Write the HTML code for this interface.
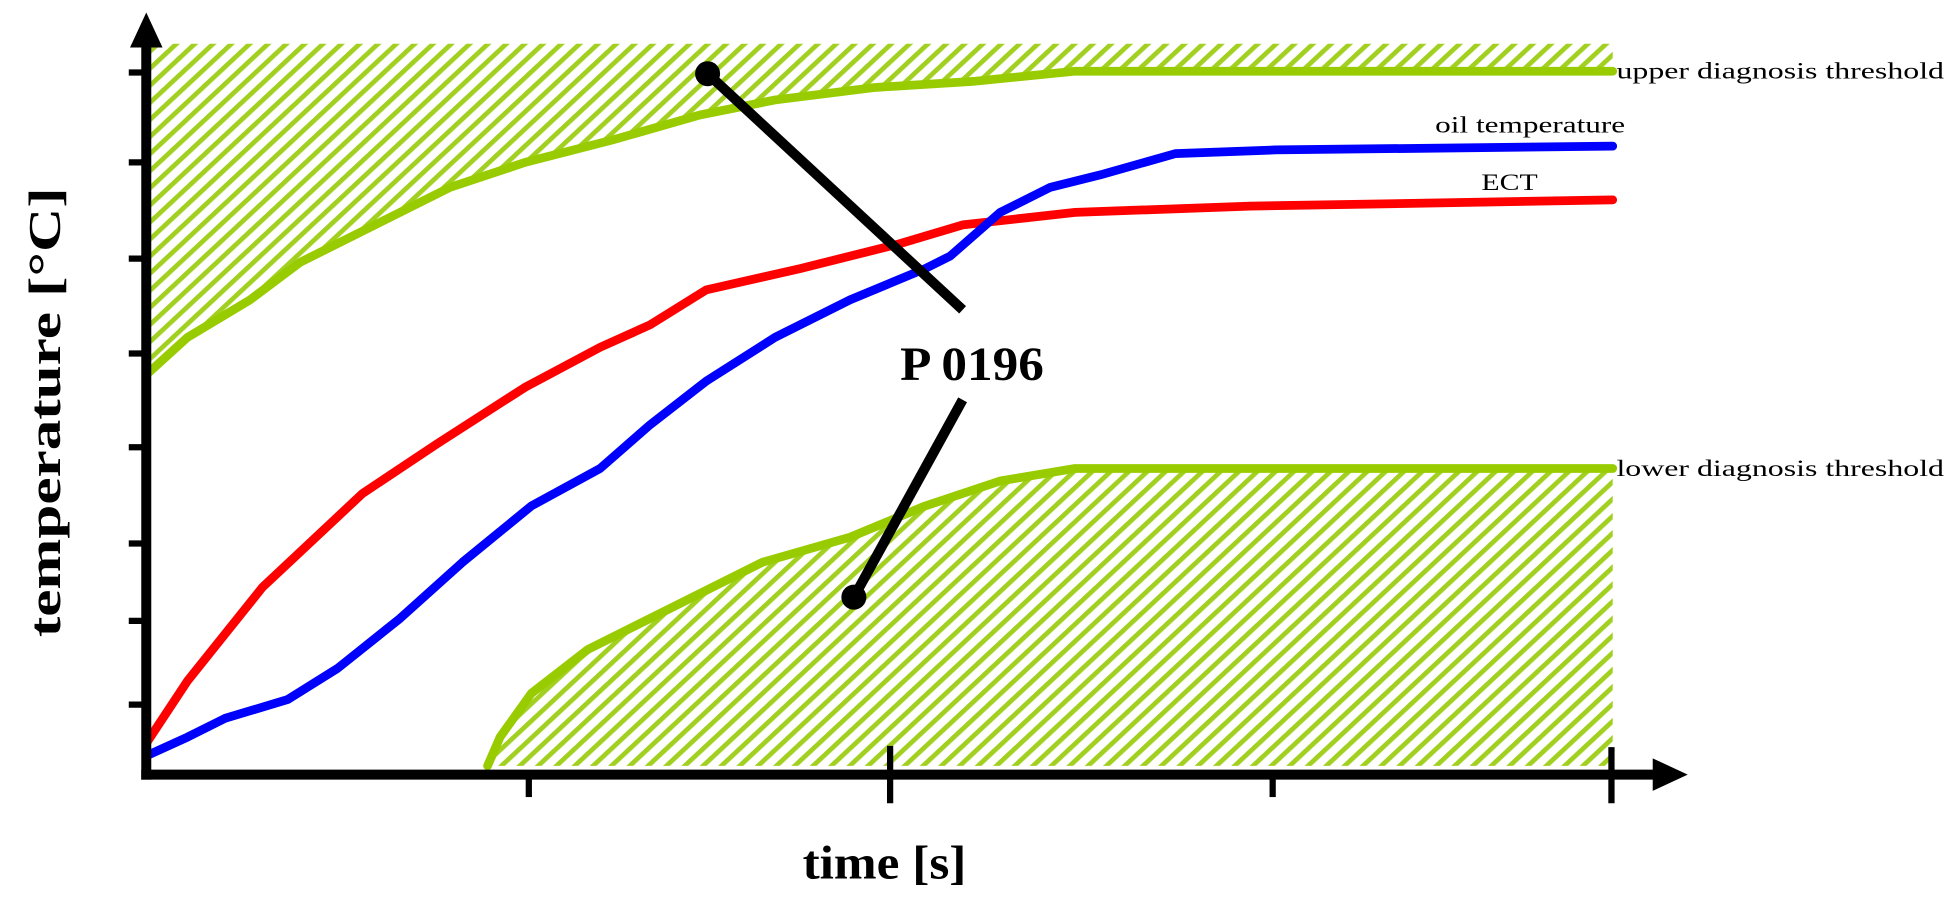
<!DOCTYPE html>
<html><head><meta charset="utf-8"><style>
html,body{margin:0;padding:0;background:#fff;}
svg{display:block;}
</style></head><body>
<svg width="1959" height="912" viewBox="0 0 1567 730" preserveAspectRatio="none" xmlns="http://www.w3.org/2000/svg">
<defs>
<pattern id="h" patternUnits="userSpaceOnUse" width="10" height="10" patternTransform="rotate(47)">
<rect x="0" y="0" width="3.8" height="10" fill="#a2d020"/>
</pattern>
</defs>
<path d="M117,35 L1290,35 L1290,57 L860,57 L780,65 L700,70 L620,80 L560,92 L490,112 L420,130 L360,150 L300,180 L240,210 L200,240 L150,270 L117,300 Z" fill="url(#h)"/>
<path d="M390,613 L400,590 L425,555 L470,520 L530,490 L610,450 L680,430 L740,405 L800,385 L860,375 L1290,375 L1290,613 Z" fill="url(#h)"/>
<g fill="none" stroke-linejoin="round" stroke-linecap="round" stroke-width="7">
<polyline stroke="#99cc00" points="117,300 150,270 200,240 240,210 300,180 360,150 420,130 490,112 560,92 620,80 700,70 780,65 860,57 1290,57"/>
<polyline stroke="#99cc00" points="390,613 400,590 425,555 470,520 530,490 610,450 680,430 740,405 800,385 860,375 1290,375"/>
<polyline stroke="#ff0000" points="117,595 150,545 210,470 290,395 350,355 420,310 480,278 520,260 565,232 640,215 720,195 770,180 860,170 1000,165 1290,160"/>
<polyline stroke="#0000ff" points="117,605 150,590 180,575 230,560 270,535 320,495 370,450 425,405 480,375 520,340 565,305 620,270 680,240 740,215 760,205 800,170 840,150 880,140 940,123 1020,120 1290,117"/>
</g>
<g stroke="#000" stroke-width="8">
<line x1="117" y1="30" x2="117" y2="624"/>
<line x1="113" y1="620" x2="1325" y2="620"/>
<g stroke-width="5">
<line x1="103" y1="58" x2="117" y2="58"/>
<line x1="103" y1="130" x2="117" y2="130"/>
<line x1="103" y1="207" x2="117" y2="207"/>
<line x1="103" y1="283" x2="117" y2="283"/>
<line x1="103" y1="358" x2="117" y2="358"/>
<line x1="103" y1="435" x2="117" y2="435"/>
<line x1="103" y1="497" x2="117" y2="497"/>
<line x1="103" y1="564" x2="117" y2="564"/>
<line x1="423" y1="620" x2="423" y2="638"/>
<line x1="712" y1="597" x2="712" y2="643"/>
<line x1="1018" y1="620" x2="1018" y2="638"/>
<line x1="1289" y1="598" x2="1289" y2="643"/>
</g>
</g>
<polygon points="117,10 104,38 130,38" fill="#000"/>
<polygon points="1350,620 1322,607 1322,633" fill="#000"/>
<g stroke="#000" stroke-width="8">
<line x1="565" y1="58" x2="770" y2="248"/>
<line x1="770" y1="320" x2="683" y2="478"/>
</g>
<circle cx="566" cy="59" r="10" fill="#000"/>
<circle cx="683" cy="478" r="10" fill="#000"/>
<g font-family="Liberation Serif, serif" fill="#000">
<text x="1293" y="63" font-size="19" textLength="262" lengthAdjust="spacingAndGlyphs">upper diagnosis threshold</text>
<text x="1148" y="106" font-size="19" textLength="152" lengthAdjust="spacingAndGlyphs">oil temperature</text>
<text x="1185" y="152" font-size="19" textLength="45" lengthAdjust="spacingAndGlyphs">ECT</text>
<text x="1293" y="381" font-size="19" textLength="262" lengthAdjust="spacingAndGlyphs">lower diagnosis threshold</text>
<text x="720" y="304" font-size="38" font-weight="bold" textLength="115" lengthAdjust="spacingAndGlyphs">P 0196</text>
<text x="642" y="703" font-size="38" font-weight="bold" textLength="131" lengthAdjust="spacingAndGlyphs">time [s]</text>
<text transform="translate(48,510) rotate(-90)" font-size="36" font-weight="bold" textLength="360" lengthAdjust="spacingAndGlyphs">temperature [°C]</text>
</g>
</svg>
</body></html>
